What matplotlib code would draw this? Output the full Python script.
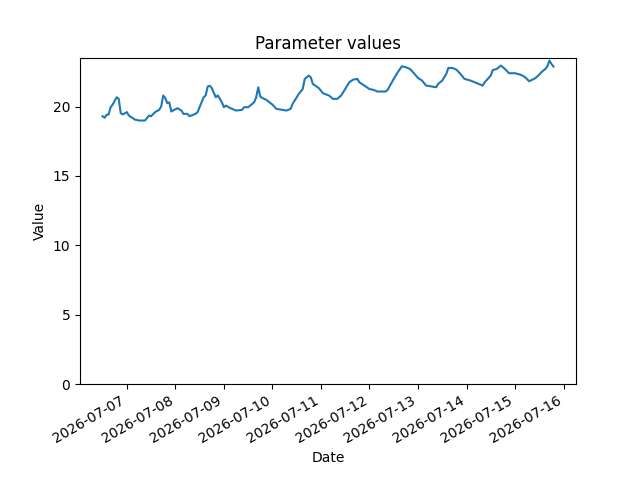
import pandas as pd
import matplotlib
matplotlib.use("Agg")
import matplotlib.pyplot as plt

# Hours after 2026-07-07 00:00 and the value read at each
start = "2026-07-07 00:00"
hours = [-12, -11, -10, -9, -8, -7, -5, -4, -3, -2, 0, 1, 4, 6, 9, 11, 12, 14,
         16, 17, 18, 19, 20, 21, 22, 25, 27, 28, 30, 31, 34, 35, 38, 39, 40, 41,
         42, 44, 45, 47, 48, 49, 51, 54, 57, 58, 60, 63, 64, 65, 66, 67, 69, 72,
         74, 77, 79, 81, 82, 85, 87, 88, 90, 91, 92, 95, 97, 100, 102, 104, 106,
         108, 110, 112, 114, 115, 118, 120, 122, 124, 128, 129, 132, 134, 136,
         138, 140, 142, 144, 146, 148, 151, 153, 154, 156, 158, 159, 161, 163,
         165, 167, 170, 172, 174, 176, 177, 180, 181, 183, 185, 187, 189, 192,
         195, 197, 199, 202, 204, 205, 207, 208, 209, 210, 211]
values = [19.30, 19.19, 19.40, 19.43, 19.95, 20.14, 20.67, 20.55, 19.52, 19.43,
          19.60, 19.35, 19.06, 18.99, 18.99, 19.35, 19.30, 19.60, 19.76, 20.00,
          20.79, 20.62, 20.24, 20.30, 19.64, 19.88, 19.71, 19.47, 19.47, 19.30,
          19.47, 19.60, 20.67, 20.80, 21.44, 21.50, 21.34, 20.67, 20.80, 20.31,
          19.95, 20.07, 19.90, 19.71, 19.76, 19.95, 19.95, 20.31, 20.67, 21.39,
          20.72, 20.62, 20.48, 20.14, 19.83, 19.76, 19.71, 19.83, 20.19, 20.90,
          21.26, 21.99, 22.23, 22.10, 21.63, 21.32, 20.96, 20.79, 20.55, 20.55,
          20.79, 21.26, 21.75, 21.94, 21.99, 21.75, 21.46, 21.26, 21.20, 21.08,
          21.08, 21.20, 21.99, 22.47, 22.90, 22.83, 22.71, 22.40, 22.06, 21.87,
          21.51, 21.44, 21.39, 21.63, 21.87, 22.35, 22.78, 22.78, 22.66, 22.35,
          21.99, 21.87, 21.75, 21.63, 21.51, 21.75, 22.23, 22.63, 22.71, 22.95,
          22.71, 22.40, 22.40, 22.28, 22.11, 21.82, 22.04, 22.30, 22.47, 22.71,
          22.90, 23.31, 23.07, 22.88]

dates = pd.Timestamp(start) + pd.to_timedelta(hours, unit="h")

fig, ax = plt.subplots(figsize=(6.4, 4.8), dpi=100)
ax.plot(dates, values)
ax.set_ylim(bottom=0)
ax.set_title("Parameter values")
ax.set_xlabel("Date")
ax.set_ylabel("Value")
fig.autofmt_xdate()

fig.savefig("out.png")
